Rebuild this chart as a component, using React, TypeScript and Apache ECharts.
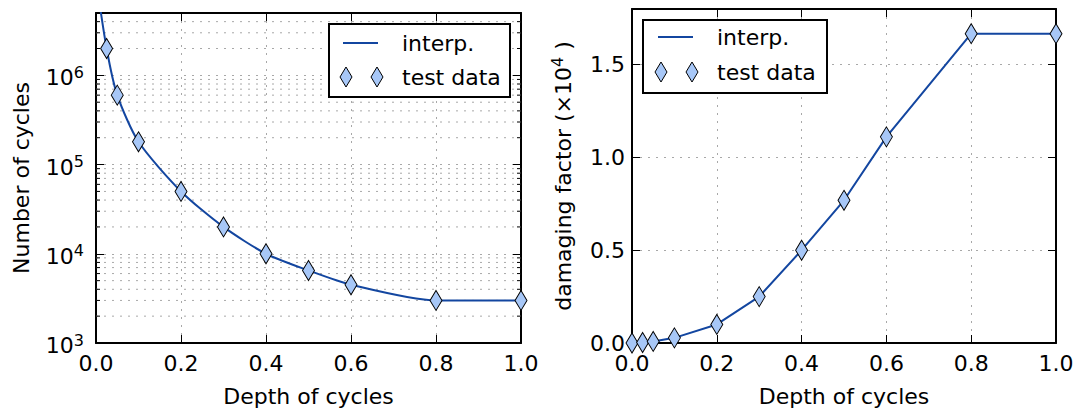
import React, { useEffect, useRef } from 'react';
import * as echarts from 'echarts';

// ---- data ----
const depthTest = [0.025, 0.05, 0.1, 0.2, 0.3, 0.4, 0.5, 0.6, 0.8, 1.0];
const cyclesTest = [2e6, 6e5, 1.8e5, 5e4, 2e4, 1e4, 6.5e3, 4.5e3, 3e3, 3e3];
const depthInterp = [0, 0.025, 0.05, 0.1, 0.2, 0.3, 0.4, 0.5, 0.6, 0.8, 1.0];
const cyclesInterp = [1.2e7, 2e6, 6e5, 1.8e5, 5e4, 2e4, 1e4, 6.5e3, 4.5e3, 3e3, 3e3];
const depthDamage = [0, 0.025, 0.05, 0.1, 0.2, 0.3, 0.4, 0.5, 0.6, 0.8, 1.0];
const damageTest = [0, 0.0025, 0.0083, 0.0278, 0.1, 0.25, 0.5, 0.769, 1.111, 1.667, 1.667];
const damageInterp = [0, 0.0025, 0.0083, 0.0278, 0.1, 0.25, 0.5, 0.769, 1.111, 1.667, 1.667];
const logMinorTicks = [
  2e3, 3e3, 4e3, 5e3, 6e3, 7e3, 8e3, 9e3,
  2e4, 3e4, 4e4, 5e4, 6e4, 7e4, 8e4, 9e4,
  2e5, 3e5, 4e5, 5e5, 6e5, 7e5, 8e5, 9e5,
  2e6, 3e6, 4e6,
];
const legendLabels = ['interp.', 'test data'];

const FONT = 'DejaVu Sans';
const FS = 22;
const LINE_COLOR = '#1346a0';
const MARK_COLOR = '#a7c7f7';
const GRID_COLOR = '#a8a8a8';
const DOT: number[] = [2, 6];

const zip = (a: number[], b: number[]) => a.map((x, i) => [x, b[i]]);

function baseAxis(extra: any) {
  return {
    axisLine: { onZero: false, lineStyle: { color: '#000', width: 2 } },
    axisTick: { inside: true, length: 8, lineStyle: { color: '#000', width: 1 } },
    splitLine: { show: false },
    ...extra,
  };
}

function legendGraphic(x: number, y: number, w: number, h: number, lineX: number, lineY: number, diaY: number, textX: number) {
  const dia = (cx: number, cy: number) => ({
    type: 'polygon',
    shape: { points: [[cx, cy - 10], [cx + 6, cy], [cx, cy + 10], [cx - 6, cy]] },
    style: { fill: MARK_COLOR, stroke: '#000', lineWidth: 1 },
  });
  return [
    { type: 'rect', shape: { x, y, width: w, height: h }, style: { fill: '#fff', stroke: '#000', lineWidth: 2 }, z: 100 },
    { type: 'line', shape: { x1: lineX, y1: lineY, x2: lineX + 35, y2: lineY }, style: { stroke: LINE_COLOR, lineWidth: 2 }, z: 101 },
    { ...dia(lineX + 3, diaY), z: 101 },
    { ...dia(lineX + 34, diaY), z: 101 },
    { type: 'text', x: textX, y: lineY, style: { text: legendLabels[0], font: `${FS}px "${FONT}"`, fill: '#000', verticalAlign: 'middle' }, z: 101 },
    { type: 'text', x: textX, y: diaY, style: { text: legendLabels[1], font: `${FS}px "${FONT}"`, fill: '#000', verticalAlign: 'middle' }, z: 101 },
  ];
}

export default function App() {
  const ref = useRef<HTMLDivElement>(null);
  useEffect(() => {
    if (!ref.current) return;
    const chart = echarts.init(ref.current, undefined, { renderer: 'svg' });
    const labelStyle = { fontFamily: FONT, fontSize: FS, color: '#000' };
    const nameStyle = { fontFamily: FONT, fontSize: FS, color: '#000' };
    const supRich = {
      b: { fontFamily: FONT, fontSize: FS, color: '#000', lineHeight: FS, padding: [5, 0, 0, 0] },
      s: { fontFamily: FONT, fontSize: 16, color: '#000', lineHeight: 16, verticalAlign: 'top' },
    };
    const option: any = {
      animation: false,
      textStyle: { fontFamily: FONT },
      grid: [
        { left: 96, top: 13, width: 425, height: 332 },
        { left: 632, top: 9, width: 424, height: 335 },
      ],
      xAxis: [
        baseAxis({
          type: 'value', gridIndex: 0, min: 0, max: 1, interval: 0.2,
          axisLabel: { ...labelStyle, margin: 9, formatter: (v: number) => v.toFixed(1) },
          splitLine: { show: true, lineStyle: { color: GRID_COLOR, type: DOT, width: 1 } },
          name: 'Depth of cycles', nameLocation: 'middle', nameGap: 42, nameTextStyle: nameStyle,
        }),
        baseAxis({ type: 'value', gridIndex: 0, position: 'top', min: 0, max: 1, interval: 0.2, axisLabel: { show: false } }),
        baseAxis({
          type: 'value', gridIndex: 1, min: 0, max: 1, interval: 0.2,
          axisLabel: { ...labelStyle, margin: 9, formatter: (v: number) => v.toFixed(1) },
          splitLine: { show: true, lineStyle: { color: GRID_COLOR, type: DOT, width: 1 } },
          name: 'Depth of cycles', nameLocation: 'middle', nameGap: 42, nameTextStyle: nameStyle,
        }),
        baseAxis({ type: 'value', gridIndex: 1, position: 'top', min: 0, max: 1, interval: 0.2, axisLabel: { show: false } }),
      ],
      yAxis: [
        baseAxis({
          type: 'log', logBase: 10, gridIndex: 0, min: 1000, max: 5e6,
          axisLabel: {
            margin: 12,
            formatter: (v: number) => {
              const e = Math.log10(v);
              const r = Math.round(e);
              if (Math.abs(e - r) > 1e-6) return '';
              return `{b|10}{s|${r}}`;
            },
            rich: supRich,
          },
          splitLine: { show: true, lineStyle: { color: GRID_COLOR, type: DOT, width: 1 } },
          name: 'Number of cycles', nameLocation: 'middle', nameGap: 64, nameRotate: 90, nameTextStyle: nameStyle,
        }),
        baseAxis({ type: 'log', logBase: 10, gridIndex: 0, position: 'right', min: 1000, max: 5e6, axisLabel: { show: false } }),
        baseAxis({
          type: 'value', gridIndex: 1, min: 0, max: 1.8, interval: 0.5,
          axisLabel: {
            ...labelStyle, margin: 7,
            formatter: (v: number) => (Math.abs(v / 0.5 - Math.round(v / 0.5)) < 1e-6 ? v.toFixed(1) : ''),
          },
          splitLine: { show: true, lineStyle: { color: GRID_COLOR, type: DOT, width: 1 } },
          name: '{b|damaging factor (×10}{s|4}{b| )}', nameLocation: 'middle', nameGap: 61, nameRotate: 90,
          nameTextStyle: {
            rich: {
              b: { fontFamily: FONT, fontSize: FS, color: '#000', lineHeight: FS, padding: [6, 0, 0, 0] },
              s: { fontFamily: FONT, fontSize: 16, color: '#000', lineHeight: 16, verticalAlign: 'top' },
            },
          },
        }),
        baseAxis({ type: 'value', gridIndex: 1, position: 'right', min: 0, max: 1.8, interval: 0.5, axisLabel: { show: false } }),
      ],
      series: [
        {
          type: 'custom', xAxisIndex: 0, yAxisIndex: 0, z: 1, silent: true,
          data: logMinorTicks.map((v) => [0, v]),
          renderItem: (_p: any, api: any) => {
            const v = api.value(1);
            const a = api.coord([0, v]);
            const b = api.coord([1, v]);
            return {
              type: 'group',
              children: [
                { type: 'line', shape: { x1: a[0], y1: a[1], x2: b[0], y2: b[1] }, style: { stroke: GRID_COLOR, lineDash: DOT, lineWidth: 1 } },
                { type: 'line', shape: { x1: a[0], y1: a[1], x2: a[0] + 4, y2: a[1] }, style: { stroke: '#000', lineWidth: 1 } },
                { type: 'line', shape: { x1: b[0] - 4, y1: b[1], x2: b[0], y2: b[1] }, style: { stroke: '#000', lineWidth: 1 } },
              ],
            };
          },
        },
        {
          name: 'interp.', type: 'line', xAxisIndex: 0, yAxisIndex: 0, z: 3,
          data: zip(depthInterp, cyclesInterp), showSymbol: false, smooth: 0.25,
          lineStyle: { color: LINE_COLOR, width: 2 }, clip: true,
        },
        {
          name: 'test data', type: 'scatter', xAxisIndex: 0, yAxisIndex: 0, z: 4,
          data: zip(depthTest, cyclesTest), symbol: 'diamond', symbolSize: [12, 20],
          itemStyle: { color: MARK_COLOR, borderColor: '#000', borderWidth: 1, opacity: 1 },
        },
        {
          name: 'interp.', type: 'line', xAxisIndex: 2, yAxisIndex: 2, z: 3,
          data: zip(depthDamage, damageInterp), showSymbol: false, smooth: false,
          lineStyle: { color: LINE_COLOR, width: 2 }, clip: true,
        },
        {
          name: 'test data', type: 'scatter', xAxisIndex: 2, yAxisIndex: 2, z: 4,
          data: zip(depthDamage, damageTest), symbol: 'diamond', symbolSize: [12, 20],
          itemStyle: { color: MARK_COLOR, borderColor: '#000', borderWidth: 1, opacity: 1 },
        },
      ],
      graphic: [
        ...legendGraphic(329, 24, 181, 73, 343, 43, 77, 402),
        ...legendGraphic(643, 20, 184, 73, 658, 37, 72, 717),
      ],
    };
    chart.setOption(option);
    return () => chart.dispose();
  }, []);
  return <div ref={ref} style={{ position: 'fixed', left: 0, top: 0, width: 1081, height: 412, background: '#fff' }} />;
}
